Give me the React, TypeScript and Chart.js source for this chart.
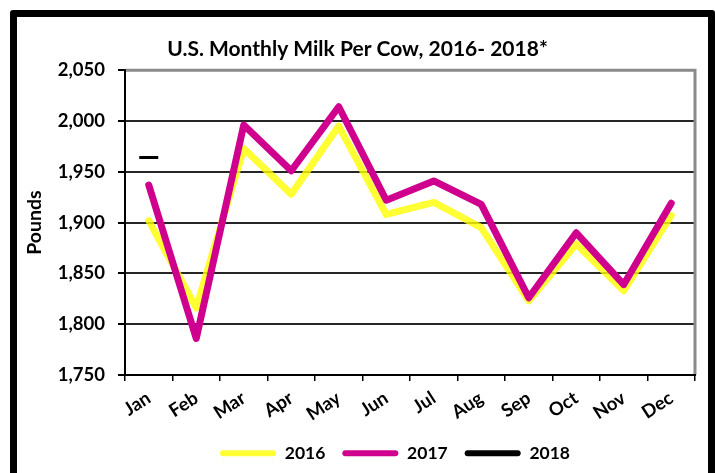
import React, { useEffect, useRef } from 'react';
import { Chart, registerables } from 'chart.js';

Chart.register(...registerables);

const months = ['Jan', 'Feb', 'Mar', 'Apr', 'May', 'Jun', 'Jul', 'Aug', 'Sep', 'Oct', 'Nov', 'Dec'];
const milk2016 = [1902, 1816, 1973, 1928, 1995, 1908, 1920, 1895, 1823, 1879, 1833, 1907];
const milk2017 = [1937, 1786, 1996, 1951, 2014, 1922, 1941, 1918, 1826, 1890, 1839, 1919];
const milk2018 = [1964];
const seriesLabels = ['2016', '2017', '2018'];
const yMin = 1750;
const yMax = 2050;
const yStep = 50;
const titleText = 'U.S. Monthly Milk Per Cow, 2016- 2018*';
const yTitle = 'Pounds';

const FONT = 'Lato, "Open Sans", sans-serif';
const YELLOW = 'rgba(255,255,0,0.8)';
const YELLOW_SOLID = '#FFFF33';
const MAGENTA = '#D0008F';
const BLACK = '#000000';

export default function App() {
  const ref = useRef<HTMLCanvasElement | null>(null);

  useEffect(() => {
    if (!ref.current) return;

    const framePlugin = {
      id: 'frame',
      beforeDatasetsDraw(chart: any) {
        const { ctx, chartArea: a } = chart;
        ctx.save();
        ctx.strokeStyle = '#8a8a8a';
        ctx.lineWidth = 3;
        ctx.beginPath();
        ctx.moveTo(a.left, a.top);
        ctx.lineTo(a.right, a.top);
        ctx.lineTo(a.right, a.bottom);
        ctx.stroke();
        ctx.strokeStyle = '#000';
        ctx.lineWidth = 2;
        ctx.beginPath();
        ctx.moveTo(a.left, a.top - 1);
        ctx.lineTo(a.left, a.bottom);
        ctx.lineTo(a.right + 1, a.bottom);
        ctx.stroke();
        ctx.restore();
      },
    };

    const legendPlugin = {
      id: 'legendPos',
      afterLayout(chart: any) {
        const lg = chart.legend;
        if (!lg) return;
        const cx = 395;
        const dx = cx - (lg.left + lg.right) / 2;
        lg.left += dx;
        lg.right += dx;
        const newTop = 453 - 17 - 8.5;
        lg.top = newTop;
        lg.bottom = newTop + lg.height;
      },
    };

    const legendColors = [YELLOW_SOLID, MAGENTA, BLACK];

    const chart = new Chart(ref.current, {
      type: 'line',
      data: {
        labels: months,
        datasets: [
          {
            label: seriesLabels[0],
            data: milk2016,
            borderColor: YELLOW,
            backgroundColor: YELLOW,
            borderWidth: 7,
            pointRadius: 0,
            borderJoinStyle: 'round',
            borderCapStyle: 'round',
            tension: 0,
            order: 3,
          },
          {
            label: seriesLabels[1],
            data: milk2017,
            borderColor: MAGENTA,
            backgroundColor: MAGENTA,
            borderWidth: 7,
            pointRadius: 0,
            borderJoinStyle: 'round',
            borderCapStyle: 'round',
            tension: 0,
            order: 2,
          },
          {
            label: seriesLabels[2],
            data: milk2018,
            borderColor: BLACK,
            backgroundColor: BLACK,
            borderWidth: 3,
            pointStyle: 'line',
            pointRadius: 9.5,
            pointBorderWidth: 3,
            pointBorderColor: BLACK,
            showLine: false,
            order: 1,
          },
        ],
      },
      options: {
        responsive: false,
        animation: false,
        devicePixelRatio: 1,
        layout: { padding: { left: 20, right: 20, top: 0, bottom: 0 } },
        plugins: {
          title: {
            display: true,
            text: titleText,
            color: '#000',
            font: { family: FONT, size: 21, weight: 'bold' },
            padding: { top: 37, bottom: 8 },
          },
          legend: {
            display: true,
            position: 'bottom',
            labels: {
              boxWidth: 56,
              boxHeight: 6,
              padding: 17,
              color: '#000',
              useBorderRadius: true,
              borderRadius: 3,
              font: { family: FONT, size: 17.5, weight: 'bold' },
              generateLabels: (c: any) =>
                c.data.datasets.map((ds: any, i: number) => ({
                  text: ds.label,
                  fillStyle: legendColors[i],
                  strokeStyle: 'rgba(0,0,0,0)',
                  lineWidth: 0,
                  borderRadius: 3,
                  datasetIndex: i,
                  hidden: false,
                  fontColor: '#000',
                })),
            },
          },
          tooltip: { enabled: false },
        },
        scales: {
          x: {
            type: 'category',
            offset: true,
            grid: {
              offset: true,
              drawOnChartArea: false,
              drawTicks: true,
              tickLength: 6,
              tickColor: '#000',
              lineWidth: 1.5,
            },
            border: { display: false },
            ticks: {
              color: '#000',
              font: { family: FONT, size: 18.5, weight: 'bold' },
              maxRotation: 33,
              minRotation: 33,
              autoSkip: false,
              padding: 6,
            },
            afterFit: (s: any) => {
              const lh = s.chart.legend ? s.chart.legend.height : 50;
              s.height = s.chart.height - lh - 375;
            },
          },
          y: {
            min: yMin,
            max: yMax,
            grid: {
              color: (ctx: any) => (ctx.tick && ctx.tick.value === yMax ? 'rgba(0,0,0,0)' : '#262626'),
              lineWidth: 2,
              tickLength: 7,
              tickColor: '#000',
            },
            border: { display: false },
            ticks: {
              stepSize: yStep,
              color: '#000',
              padding: 13,
              font: { family: FONT, size: 18.5, weight: 'bold' },
              callback: (v: any) => Number(v).toLocaleString('en-US'),
            },
            title: {
              display: true,
              text: yTitle,
              color: '#000',
              font: { family: FONT, size: 19.5, weight: 'bold' },
              padding: { top: 3, bottom: 0 },
            },
            afterFit: (s: any) => {
              s.width = 105;
            },
          },
        },
      },
      plugins: [framePlugin, legendPlugin],
    } as any);

    return () => chart.destroy();
  }, []);

  return (
    <div
      style={{
        position: 'fixed',
        left: 0,
        top: 0,
        width: 715,
        height: 473,
        overflow: 'hidden',
        background: '#fff',
      }}
    >
      <canvas ref={ref} width={715} height={473} style={{ display: 'block', width: 715, height: 473 }} />
      <div
        style={{
          position: 'absolute',
          left: 10,
          top: 10,
          width: 705,
          height: 520,
          border: '7px solid #000',
          borderRadius: 3,
          boxSizing: 'border-box',
          pointerEvents: 'none',
        }}
      />
    </div>
  );
}
